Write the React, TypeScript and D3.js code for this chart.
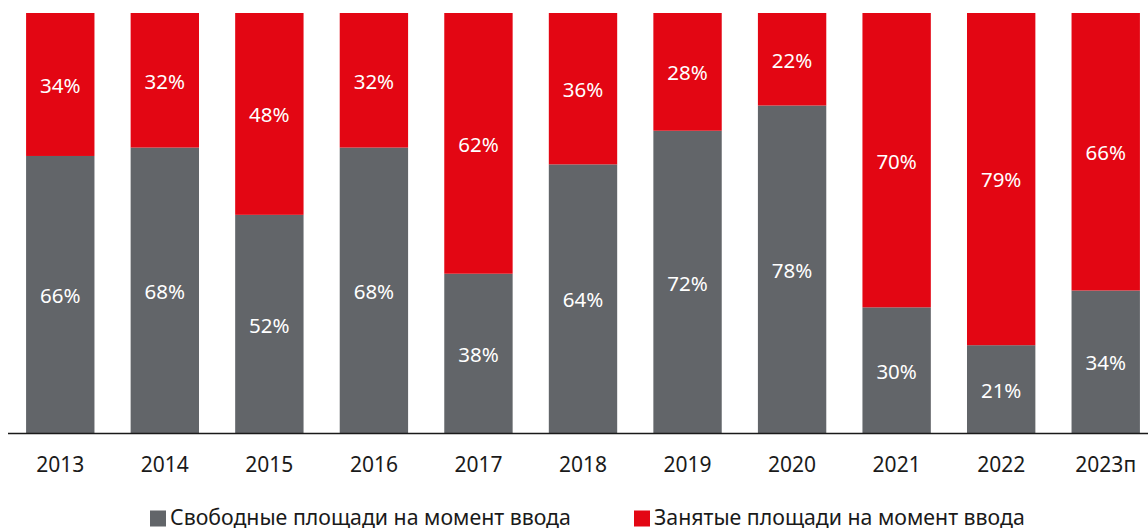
import React, { useEffect, useRef } from "react";
import { select, scaleBand, scaleLinear, axisBottom, stack } from "d3";

const years = ["2013", "2014", "2015", "2016", "2017", "2018", "2019", "2020", "2021", "2022", "2023п"];
const freeShare = [66, 68, 52, 68, 38, 64, 72, 78, 30, 21, 34];
const takenShare = [34, 32, 48, 32, 62, 36, 28, 22, 70, 79, 66];
const seriesKeys = ["free", "taken"];
const seriesNames = ["Свободные площади на момент ввода", "Занятые площади на момент ввода"];
const colors: any = { free: "#626569", taken: "#E30613" };

const W = 1148;
const H = 531;
const FONT = "'Noto Sans', sans-serif";

export default function App() {
  const svgRef = useRef<SVGSVGElement>(null);

  useEffect(() => {
    const svg = select(svgRef.current!);
    svg.selectAll("*").remove();

    const rows = years.map((y, i) => ({ year: y, free: freeShare[i], taken: takenShare[i] }));
    const layers = stack<any>().keys(seriesKeys)(rows);

    const x = scaleBand().domain(years).range([8, 1158]).paddingInner(0.346).paddingOuter(0.173);
    const yScale = scaleLinear().domain([0, 100]).range([433.5, 13]);

    svg
      .selectAll(".layer")
      .data(layers)
      .join("g")
      .attr("class", "layer")
      .attr("fill", (l: any) => colors[l.key])
      .selectAll("rect")
      .data((l: any) => l)
      .join("rect")
      .attr("x", (d: any) => x(d.data.year)!)
      .attr("width", x.bandwidth())
      .attr("y", (d: any) => yScale(d[1]))
      .attr("height", (d: any) => yScale(d[0]) - yScale(d[1]));

    // подписи значений
    svg
      .selectAll(".lbl")
      .data(layers)
      .join("g")
      .attr("class", "lbl")
      .selectAll("text")
      .data((l: any) => l)
      .join("text")
      .attr("x", (d: any) => x(d.data.year)! + x.bandwidth() / 2)
      .attr("y", (d: any) => (yScale(d[0]) + yScale(d[1])) / 2 + 1)
      .attr("dy", "0.36em")
      .attr("text-anchor", "middle")
      .attr("fill", "#fff")
      .attr("font-family", FONT)
      .attr("font-size", 20.5)
      .text((d: any) => `${d[1] - d[0]}%`);

    // ось X
    const ax = svg.append("g").attr("transform", "translate(0,433.5)");
    ax.call(axisBottom(x).tickSize(0).tickPadding(24) as any);
    ax.select(".domain").attr("d", "M8,0H1148").attr("stroke", "#1a1a1a").attr("stroke-width", 1.5);
    ax.selectAll("text").attr("font-family", FONT).attr("font-size", 21).attr("fill", "#1a1a1a");

    // легенда
    const legend = svg.append("g").attr("transform", "translate(0,517.5)");
    const legendX = [150, 634];
    seriesKeys.forEach((k, i) => {
      const g = legend.append("g").attr("transform", `translate(${legendX[i]},0)`);
      g.append("rect").attr("x", 0).attr("y", -7).attr("width", 16).attr("height", 16).attr("fill", colors[k]);
      g.append("text")
        .attr("x", 20)
        .attr("dy", "0.36em")
        .attr("font-family", FONT)
        .attr("font-size", 21.3)
        .attr("fill", "#1a1a1a")
        .text(seriesNames[i]);
    });
  }, []);

  return (
    <svg
      ref={svgRef}
      width={W}
      height={H}
      style={{ position: "absolute", left: 0, top: 0, background: "#fff" }}
    />
  );
}
